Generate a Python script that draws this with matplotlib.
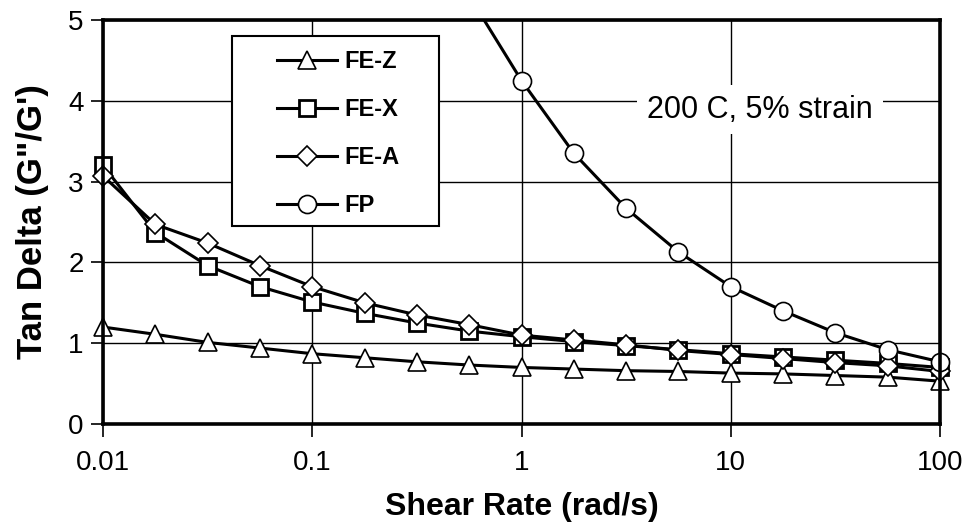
import matplotlib
matplotlib.use('Agg')
import matplotlib.pyplot as plt
from matplotlib.patches import Rectangle
from matplotlib.transforms import Bbox, TransformedBbox

plt.rcParams['font.family'] = ['Liberation Sans', 'DejaVu Sans']

# shear rate (rad/s), four points per decade
rate = [0.01, 0.0178, 0.0316, 0.0562, 0.1, 0.178, 0.316, 0.562, 1,
        1.78, 3.16, 5.62, 10, 17.8, 31.6, 56.2, 100]
fe_z = [1.20, 1.11, 1.01, 0.94, 0.87, 0.82, 0.77, 0.73, 0.70,
        0.68, 0.66, 0.65, 0.63, 0.62, 0.60, 0.58, 0.53]
fe_x = [3.20, 2.37, 1.96, 1.70, 1.51, 1.37, 1.25, 1.15, 1.08,
        1.02, 0.97, 0.92, 0.87, 0.83, 0.79, 0.75, 0.70]
fe_a = [3.07, 2.47, 2.24, 1.96, 1.70, 1.50, 1.35, 1.23, 1.10,
        1.04, 0.98, 0.91, 0.86, 0.81, 0.76, 0.72, 0.65]
fp_rate = [0.562, 1, 1.78, 3.16, 5.62, 10, 17.8, 31.6, 56.2, 100]
fp = [5.30, 4.25, 3.35, 2.67, 2.13, 1.70, 1.40, 1.13, 0.92, 0.77]

xticks = [0.01, 0.1, 1, 10, 100]
xticklabels = ['0.01', '0.1', '1', '10', '100']
yticks = [0, 1, 2, 3, 4, 5]

W, H = 969, 525
fig = plt.figure(figsize=(W/100, H/100), dpi=100)
ax = fig.add_axes([103/W, 1-424/H, 837/W, 404/H])

# clip only top/bottom so edge markers stay whole, like the original
clip = TransformedBbox(Bbox([[-0.05, 0], [1.05, 1]]), ax.transAxes)

series = [
    (rate, fe_z, '^', 13, 1.2, 'FE-Z'),
    (rate, fe_x, 's', 12, 2.0, 'FE-X'),
    (rate, fe_a, 'D', 10, 1.2, 'FE-A'),
    (fp_rate, fp, 'o', 13, 1.2, 'FP'),
]
for xs, ys, m, ms, mew, lab in series:
    ln, = ax.plot(xs, ys, color='black', lw=2.2, marker=m, ms=ms, mfc='white',
                  mec='black', mew=mew, label=lab, zorder=3)
    ln.set_clip_box(clip)

ax.set_xscale('log')
ax.set_xlim(0.01, 100)
ax.set_ylim(0, 5)
ax.set_xticks(xticks)
ax.set_xticklabels(xticklabels)
ax.set_yticks(yticks)
ax.minorticks_off()
ax.grid(True, which='major', color='black', lw=1.0)
ax.set_axisbelow(True)

for s in ax.spines.values():
    s.set_linewidth(2.6)
    s.set_color('black')
    s.set_zorder(4)
ax.tick_params(axis='both', direction='out', length=9, width=1.2, labelsize=20)
ax.tick_params(axis='y', pad=5)
ax.tick_params(axis='x', pad=10)

ax.set_xlabel('Shear Rate (rad/s)', fontsize=23, fontweight='bold', labelpad=11)
ax.set_ylabel('Tan Delta (G"/G\')', fontsize=25, fontweight='bold', labelpad=14)

ax.text(760/W, 1-109.5/H, '200 C, 5% strain', transform=fig.transFigure,
        ha='center', va='center', fontsize=22,
        bbox=dict(facecolor='white', edgecolor='none', pad=7))

# legend box
ax.add_patch(Rectangle((232/W, 1-226/H), 207/W, 190/H, transform=fig.transFigure,
                       facecolor='white', edgecolor='black', lw=1.5, zorder=2.5))
leg = ax.legend(loc='upper left', bbox_to_anchor=(277/W, 1-50/H),
                bbox_transform=fig.transFigure,
                prop={'weight': 'bold', 'size': 17}, frameon=False,
                handlelength=2.55, handletextpad=0.3, labelspacing=1.06,
                borderpad=0, borderaxespad=0)

fig.savefig('out.png', dpi=100)
